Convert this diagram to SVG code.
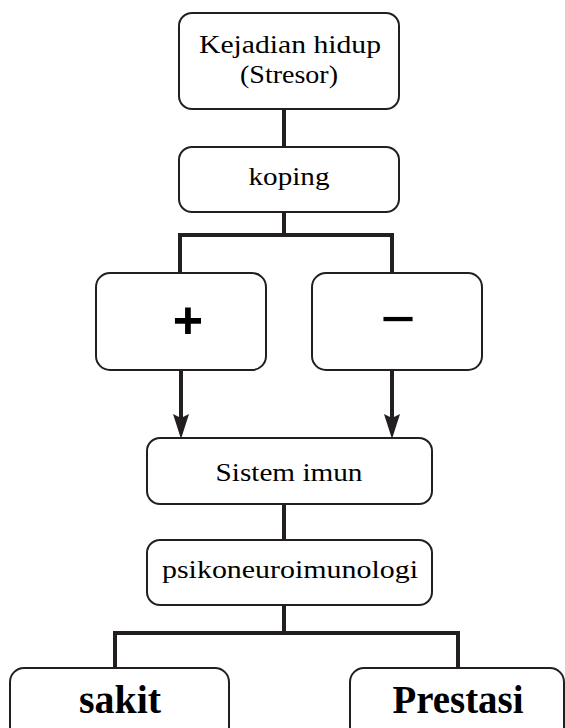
<svg xmlns="http://www.w3.org/2000/svg" width="565" height="728" viewBox="0 0 565 728">
<defs>
<style>
.box{fill:#fff;stroke:#231f20;stroke-width:2}
.t{font-family:"Liberation Serif",serif;font-size:26px;fill:#000;text-anchor:middle}
.b{font-family:"Liberation Serif",serif;font-size:40px;font-weight:bold;fill:#000;text-anchor:middle}
.s{font-family:"Liberation Sans",Arial,sans-serif;font-size:52px;font-weight:bold;fill:#000;text-anchor:middle}
.m{font-family:"Liberation Sans",Arial,sans-serif;font-size:60px;fill:#000;text-anchor:middle}
.c{fill:none;stroke:#231f20;stroke-width:4}
</style>
</defs>
<rect width="565" height="728" fill="#fff"/>
<g id="connectors">
<path class="c" d="M284,109 V147"/>
<path class="c" d="M284,212 V235"/>
<path class="c" d="M180,273 V235 H392 V273"/>
<path class="c" d="M181,370 V420"/>
<path class="c" d="M392,370 V420"/>
<path d="M173,414 L181,418 L189,414 L181,439 Z" fill="#231f20"/>
<path d="M384,414 L392,418 L400,414 L392,439 Z" fill="#231f20"/>
<path class="c" d="M284,504 V540"/>
<path class="c" d="M284,605 V633"/>
<path class="c" d="M115,668 V633 H458 V668"/>
</g>
<g id="stresor">
<rect class="box" x="179" y="13" width="220" height="96" rx="13"/>
<text class="t" x="290" y="53" textLength="182" lengthAdjust="spacingAndGlyphs">Kejadian hidup</text>
<text class="t" x="289" y="83" textLength="98" lengthAdjust="spacingAndGlyphs">(Stresor)</text>
</g>
<g id="koping">
<rect class="box" x="179" y="147" width="220" height="65" rx="13"/>
<text class="t" x="289" y="185" textLength="81" lengthAdjust="spacingAndGlyphs">koping</text>
</g>
<g id="plus">
<rect class="box" x="96" y="273" width="170" height="97" rx="14"/>
<text class="s" x="188" y="338">+</text>
</g>
<g id="minus">
<rect class="box" x="312" y="273" width="170" height="97" rx="14"/>
<text class="m" x="398" y="339">−</text>
</g>
<g id="sistem-imun">
<rect class="box" x="147" y="438" width="285" height="66" rx="13"/>
<text class="t" x="289" y="481" textLength="147" lengthAdjust="spacingAndGlyphs">Sistem imun</text>
</g>
<g id="psikoneuroimunologi">
<rect class="box" x="147" y="540" width="285" height="65" rx="13"/>
<text class="t" x="290" y="578" textLength="256" lengthAdjust="spacingAndGlyphs">psikoneuroimunologi</text>
</g>
<g id="sakit">
<rect class="box" x="10" y="668" width="219" height="90" rx="14"/>
<text class="b" x="120" y="713" textLength="82" lengthAdjust="spacingAndGlyphs">sakit</text>
</g>
<g id="prestasi">
<rect class="box" x="350" y="668" width="214" height="90" rx="14"/>
<text class="b" x="458" y="713" textLength="131" lengthAdjust="spacingAndGlyphs">Prestasi</text>
</g>
</svg>
